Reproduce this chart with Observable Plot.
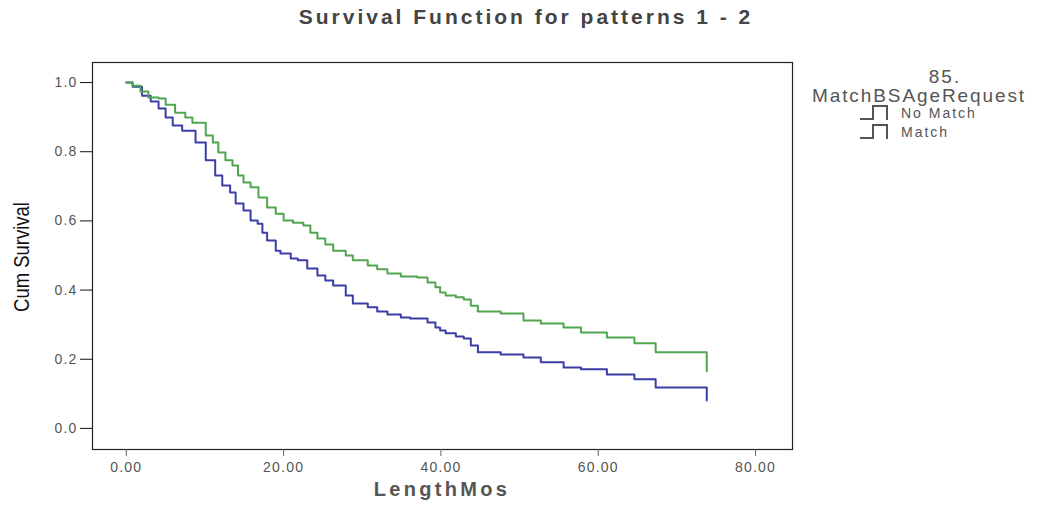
<!DOCTYPE html>
<html>
<head>
<meta charset="utf-8">
<script src="https://cdn.jsdelivr.net/npm/d3@7"></script>
<script src="https://cdn.jsdelivr.net/npm/@observablehq/plot@0.6"></script>
<style>
  body { margin: 0; background: #fff; font-family: "Liberation Sans", Arial, sans-serif; }
  #wrap { position: relative; width: 1040px; height: 505px; }
  #title { position: absolute; left: 6px; width: 1040px; top: 5px; text-align: center; font-weight: bold; font-size: 21px; letter-spacing: 3px; color: #444; }
  #legend { position: absolute; left: 0; top: 0; width: 1040px; height: 200px; color: #555; }
  #legend .h1 { position: absolute; left: 905px; width: 80px; top: 68px; line-height: 17px; text-align: center; font-size: 19px; letter-spacing: 2px; }
  #legend .h2 { position: absolute; left: 812px; top: 87px; line-height: 18px; font-size: 19px; letter-spacing: 1.9px; white-space: nowrap; }
  #legend .row { position: absolute; left: 859px; height: 17px; font-size: 14px; line-height: 14px; letter-spacing: 2px; display: flex; align-items: center; white-space: nowrap; }
  #legend .row svg { margin-right: 12px; }
  #ylab { position: absolute; left: 22px; top: 257px; transform: translate(-50%, -50%) rotate(-90deg) scaleX(0.84); font-family: "Liberation Sans", Arial, sans-serif; font-size: 22px; color: #111; white-space: nowrap; }
  #xlab { position: absolute; left: 92px; width: 700px; top: 478px; text-align: center; font-weight: bold; font-size: 20px; letter-spacing: 3.3px; color: #555; }
  svg [aria-label="y-axis tick label"] text, svg [aria-label="x-axis tick label"] text { letter-spacing: 1.2px; }
</style>
</head>
<body>
<div id="wrap">
  <div id="chart"></div>
  <div id="title">Survival Function for patterns 1 - 2</div>
  <div id="ylab">Cum Survival</div>
  <div id="xlab">LengthMos</div>
  <div id="legend">
    <div class="h1">85.</div>
    <div class="h2">MatchBSAgeRequest</div>
    <div class="row" style="top:104px"><svg width="30" height="17"><path d="M1,15 H14 V2 H28 V16" fill="none" stroke="#555" stroke-width="2"/></svg>No Match</div>
    <div class="row" style="top:123px"><svg width="30" height="17"><path d="M1,15 H14 V2 H28 V16" fill="none" stroke="#555" stroke-width="2"/></svg>Match</div>
  </div>
</div>
<script>
const groups = ["No Match", "Match"];
const noMatchTime = [0, 0.8, 2.0, 3.1, 4.1, 5.0, 5.9, 7.1, 8.8, 10.1, 11.3, 12.2, 13.2, 13.9, 14.9, 15.8, 16.7, 17.3, 17.9, 19.0, 19.6, 20.9, 21.8, 23.0, 24.3, 25.3, 26.3, 27.9, 28.8, 30.7, 31.9, 33.2, 34.9, 36.1, 38.3, 39.3, 39.9, 40.6, 41.9, 42.9, 43.8, 44.7, 47.6, 50.5, 52.7, 55.6, 57.8, 61.1, 64.6, 67.3, 73.8];
const noMatchSurv = [1.0, 0.988, 0.962, 0.945, 0.925, 0.899, 0.876, 0.861, 0.827, 0.775, 0.731, 0.702, 0.682, 0.650, 0.630, 0.601, 0.592, 0.566, 0.543, 0.514, 0.506, 0.491, 0.486, 0.462, 0.442, 0.428, 0.413, 0.384, 0.361, 0.350, 0.338, 0.329, 0.321, 0.318, 0.306, 0.292, 0.283, 0.275, 0.266, 0.260, 0.240, 0.220, 0.214, 0.205, 0.191, 0.176, 0.171, 0.156, 0.142, 0.118, 0.081];
const matchTime = [0, 0.8, 1.8, 2.8, 4.1, 5.0, 6.2, 7.5, 8.4, 10.1, 11.0, 11.7, 12.6, 13.5, 14.2, 14.9, 15.8, 16.8, 17.9, 19.0, 20.0, 21.2, 22.5, 23.4, 24.3, 25.3, 26.3, 27.9, 28.8, 30.7, 31.9, 33.2, 34.9, 37.0, 38.3, 39.3, 39.9, 40.6, 41.9, 42.9, 43.8, 44.7, 47.6, 50.5, 52.7, 55.6, 57.8, 61.1, 64.6, 67.3, 73.8];
const matchSurv = [1.0, 0.991, 0.974, 0.957, 0.954, 0.936, 0.913, 0.899, 0.884, 0.847, 0.827, 0.798, 0.775, 0.760, 0.731, 0.711, 0.697, 0.668, 0.639, 0.621, 0.601, 0.595, 0.587, 0.566, 0.549, 0.532, 0.514, 0.500, 0.486, 0.471, 0.460, 0.448, 0.439, 0.436, 0.422, 0.408, 0.393, 0.384, 0.379, 0.373, 0.355, 0.338, 0.332, 0.312, 0.303, 0.292, 0.277, 0.263, 0.246, 0.220, 0.165];
const xTicks = [0, 20, 40, 60, 80];
const yTicks = [0, 0.2, 0.4, 0.6, 0.8, 1.0];
const colors = ["#3b3ea6", "#4fa64f"];

const data = [
  ...noMatchTime.map((t, i) => ({group: groups[0], t, s: noMatchSurv[i]})),
  ...matchTime.map((t, i) => ({group: groups[1], t, s: matchSurv[i]}))
];

const chart = Plot.plot({
  width: 1040,
  height: 505,
  marginLeft: 92,
  marginRight: 248,
  marginTop: 62,
  marginBottom: 56,
  style: {fontFamily: "'Liberation Sans', Arial, sans-serif", background: "#fff"},
  x: {domain: [-4.3, 84.7]},
  y: {domain: [-0.061, 1.058]},
  color: {domain: groups, range: colors},
  marks: [
    Plot.frame({stroke: "#222", strokeWidth: 1.2}),
    Plot.axisY({ticks: yTicks, tickSize: 12, tickPadding: 3, tickFormat: d => d.toFixed(1), stroke: "#111", fill: "#555", fontSize: 14, label: null}),
    Plot.axisX({ticks: xTicks, tickSize: 7, tickPadding: 6, tickFormat: d => d.toFixed(2), stroke: "#666", fill: "#555", fontSize: 14, label: null}),
    Plot.line(data, {x: "t", y: "s", z: "group", stroke: "group", curve: "step-after", strokeWidth: 2})
  ]
});
document.getElementById("chart").appendChild(chart);
</script>
</body>
</html>
